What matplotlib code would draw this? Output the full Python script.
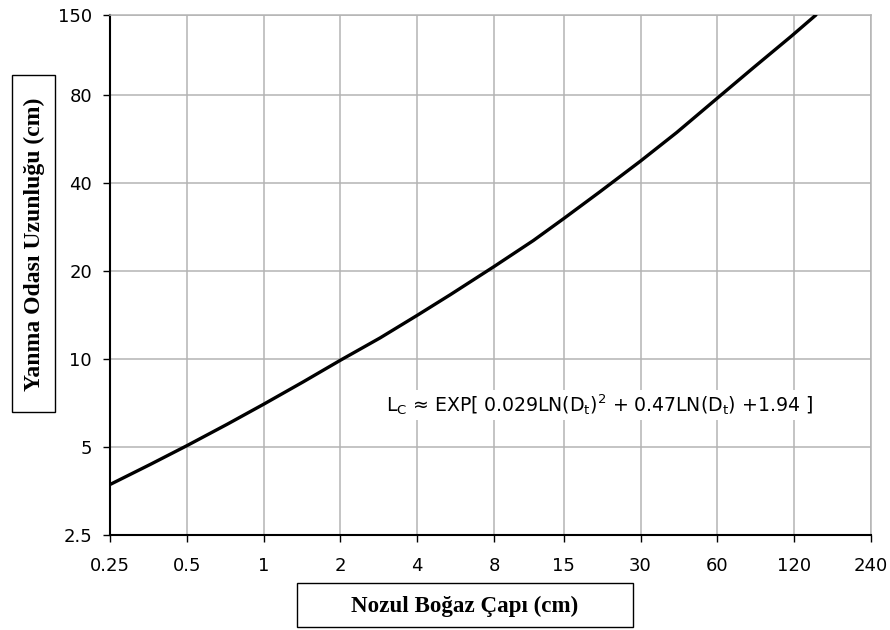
import matplotlib
matplotlib.use('Agg')
from matplotlib import pyplot as plt
from matplotlib.patches import Rectangle

# curve (throat diameter vs chamber length)
dt = [0.25, 0.36, 0.5, 0.72, 1.0, 1.43, 2.0, 2.86, 4.0, 5.4, 8.0, 11.4,
      15, 20.8, 30, 41.6, 59, 83, 117, 146]
lc = [3.72, 4.36, 5.05, 5.98, 7.0, 8.35, 9.9, 11.8, 14.1, 16.6, 20.7, 25.4,
      30.2, 37.3, 47.5, 59.5, 77.0, 99.0, 127.0, 150]

xticks = [0.25, 0.5, 1, 2, 4, 8, 15, 30, 60, 120, 240]
xlabels = ['0.25', '0.5', '1', '2', '4', '8', '15', '30', '60', '120', '240']
yticks = [2.5, 5, 10, 20, 40, 80, 150]
ylabels = ['2.5', '5', '10', '20', '40', '80', '150']

formula = (r'L$_\mathrm{C}$ ≈ EXP[ 0.029LN(D$_\mathrm{t}$)$^\mathrm{2}$'
           r' + 0.47LN(D$_\mathrm{t}$) +1.94 ]')

W, H = 890, 630
fig = plt.figure(figsize=(W / 100, H / 100), dpi=100)
ax = fig.add_axes([110 / W, 1 - 535 / H, 761 / W, 520 / H])

ax.plot(dt, lc, color='black', lw=2.4, solid_capstyle='round', zorder=3)

ax.set_xscale('log')
ax.set_yscale('log')
ax.set_xlim(0.25, 240)
ax.set_ylim(2.5, 150)
ax.set_xticks(xticks)
ax.set_xticklabels(xlabels)
ax.set_yticks(yticks)
ax.set_yticklabels(ylabels)
ax.minorticks_off()
ax.tick_params(axis='both', direction='out', length=5, width=1, color='black',
               labelsize=13, pad=8)
ax.tick_params(axis='x', pad=11)

ax.grid(True, color='#b4b4b4', lw=1.1)
ax.set_axisbelow(True)
for s in ['top', 'right']:
    ax.spines[s].set_color('#b4b4b4')
    ax.spines[s].set_linewidth(1.1)
for s in ['left', 'bottom']:
    ax.spines[s].set_color('black')
    ax.spines[s].set_linewidth(1.5)

fig.text(386 / W, 1 - 405 / H, formula, fontsize=13.6, va='center', ha='left',
         bbox=dict(facecolor='white', edgecolor='none', pad=2), zorder=5)

# boxed axis titles
fig.add_artist(Rectangle((12 / W, 1 - 412 / H), 43 / W, 337 / H,
                         transform=fig.transFigure, fill=False, ec='black', lw=1))
fig.text(34 / W, 1 - 244 / H, 'Yanma Odası Uzunluğu (cm)', rotation=90,
         ha='center', va='center', fontsize=17, fontweight='bold',
         family='Liberation Serif')
fig.add_artist(Rectangle((297 / W, 1 - 627 / H), 336 / W, 44 / H,
                         transform=fig.transFigure, fill=False, ec='black', lw=1))
fig.text(465 / W, 1 - 606 / H, 'Nozul Boğaz Çapı (cm)', ha='center', va='center',
         fontsize=16.6, fontweight='bold', family='Liberation Serif')

fig.savefig('out.png', dpi=100)
